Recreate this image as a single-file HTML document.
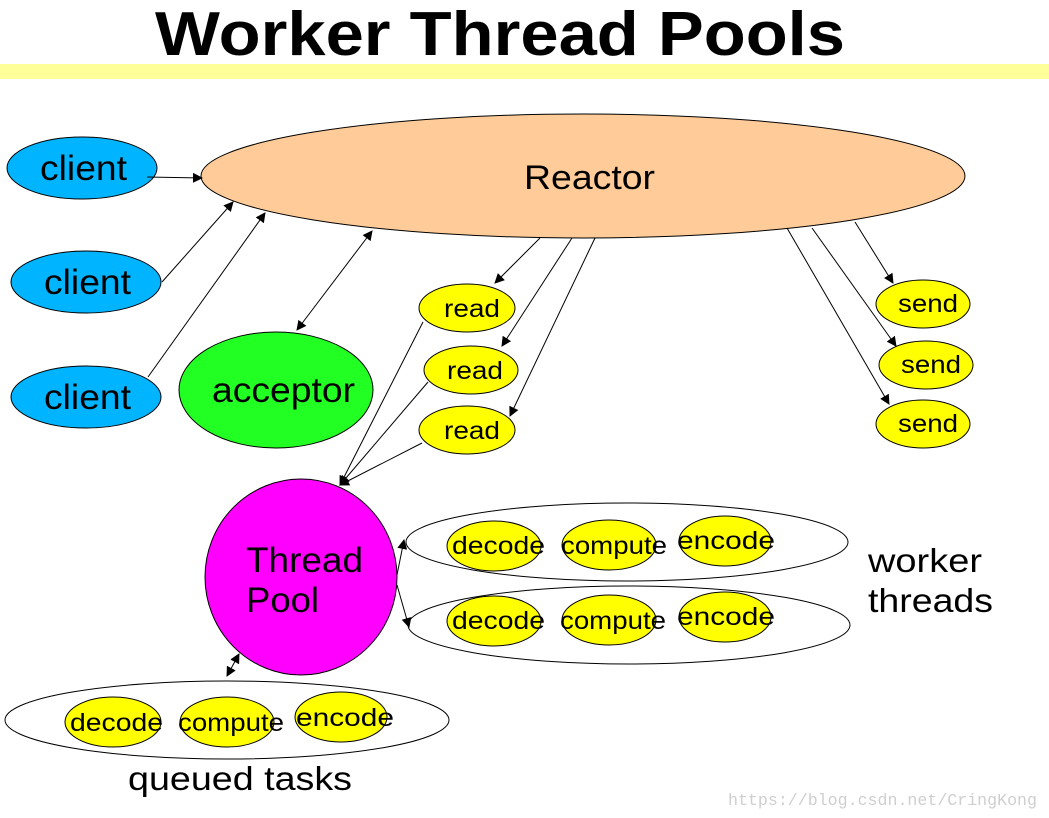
<!DOCTYPE html>
<html><head><meta charset="utf-8"><style>
html,body{margin:0;padding:0;background:#fff;}
svg{display:block;}
text{font-family:"Liberation Sans","DejaVu Sans",sans-serif;fill:#000;}
</style></head><body>
<svg width="1049" height="818" viewBox="0 0 1049 818" xmlns="http://www.w3.org/2000/svg">
<defs>
<marker id="a" markerWidth="10" markerHeight="10" refX="9" refY="5" orient="auto" markerUnits="userSpaceOnUse">
<path d="M0,0 L10,5 L0,10 z" fill="#000"/></marker>
<marker id="s" markerWidth="10" markerHeight="10" refX="1" refY="5" orient="auto" markerUnits="userSpaceOnUse">
<path d="M10,0 L0,5 L10,10 z" fill="#000"/></marker>
</defs>
<text x="500" y="55" font-size="62" font-weight="bold" text-anchor="middle" textLength="690" lengthAdjust="spacingAndGlyphs">Worker Thread Pools</text>
<rect x="0" y="64" width="1049" height="15" fill="#ffff99"/>

<g stroke="#000" stroke-width="1">
<ellipse cx="583" cy="176" rx="382" ry="62" fill="#ffcc99"/>
<ellipse cx="82" cy="168" rx="75" ry="31" fill="#00b4ff"/>
<ellipse cx="86" cy="282" rx="75" ry="31" fill="#00b4ff"/>
<ellipse cx="86" cy="397" rx="75" ry="31" fill="#00b4ff"/>
<ellipse cx="276" cy="390" rx="97" ry="58" fill="#22ff22"/>
<ellipse cx="467" cy="308" rx="48" ry="24" fill="#ffff00"/>
<ellipse cx="471" cy="370" rx="47" ry="24" fill="#ffff00"/>
<ellipse cx="467" cy="430" rx="48" ry="24" fill="#ffff00"/>
<ellipse cx="923" cy="304" rx="47" ry="24" fill="#ffff00"/>
<ellipse cx="926" cy="365" rx="47" ry="24" fill="#ffff00"/>
<ellipse cx="923" cy="424" rx="47" ry="24" fill="#ffff00"/>
<ellipse cx="301" cy="577" rx="96" ry="98" fill="#ff00ff"/>
<ellipse cx="627" cy="542" rx="221" ry="39" fill="#fff"/>
<ellipse cx="629" cy="625" rx="221" ry="39" fill="#fff"/>
<ellipse cx="227" cy="720" rx="222" ry="39" fill="#fff"/>
<g fill="#ffff00">
<ellipse cx="494" cy="546" rx="47" ry="25"/><ellipse cx="609" cy="545" rx="47" ry="25"/><ellipse cx="725" cy="541" rx="46" ry="25"/>
<ellipse cx="494" cy="621" rx="47" ry="25"/><ellipse cx="609" cy="620" rx="47" ry="25"/><ellipse cx="725" cy="617" rx="46" ry="25"/>
<ellipse cx="113" cy="722" rx="48" ry="25"/><ellipse cx="227" cy="722" rx="47" ry="25"/><ellipse cx="341" cy="717" rx="46" ry="25"/>
</g>
</g>

<g stroke="#000" stroke-width="1" fill="none">
<line x1="147" y1="177" x2="202" y2="178" marker-end="url(#a)"/>
<line x1="162" y1="282" x2="233" y2="202" marker-end="url(#a)"/>
<line x1="148" y1="377" x2="265" y2="213" marker-end="url(#a)"/>
<line x1="297" y1="330" x2="372" y2="231" marker-start="url(#s)" marker-end="url(#a)"/>
<line x1="540" y1="238" x2="495" y2="283" marker-end="url(#a)"/>
<line x1="572" y1="238" x2="502" y2="346" marker-end="url(#a)"/>
<line x1="595" y1="238" x2="510" y2="416" marker-end="url(#a)"/>
<line x1="855" y1="222" x2="893" y2="283" marker-end="url(#a)"/>
<line x1="812" y1="228" x2="896" y2="346" marker-end="url(#a)"/>
<line x1="787" y1="228" x2="889" y2="404" marker-end="url(#a)"/>
<line x1="423" y1="322" x2="340" y2="485" marker-end="url(#a)"/>
<line x1="428" y1="382" x2="340" y2="485" marker-end="url(#a)"/>
<line x1="422" y1="443" x2="340" y2="485" marker-end="url(#a)"/>
<line x1="397" y1="575" x2="404" y2="540" marker-end="url(#a)"/>
<line x1="397" y1="585" x2="409" y2="627" marker-end="url(#a)"/>
<line x1="227" y1="676" x2="239" y2="654" marker-start="url(#s)" marker-end="url(#a)"/>
</g>

<g lengthAdjust="spacingAndGlyphs">
<text x="524" y="189" font-size="34" textLength="131" lengthAdjust="spacingAndGlyphs">Reactor</text>
<text x="40" y="180" font-size="35" textLength="87" lengthAdjust="spacingAndGlyphs">client</text>
<text x="44" y="294" font-size="35" textLength="87" lengthAdjust="spacingAndGlyphs">client</text>
<text x="44" y="409" font-size="35" textLength="87" lengthAdjust="spacingAndGlyphs">client</text>
<text x="212" y="402" font-size="35" textLength="143" lengthAdjust="spacingAndGlyphs">acceptor</text>
<text x="444" y="317" font-size="25" textLength="56" lengthAdjust="spacingAndGlyphs">read</text>
<text x="447" y="379" font-size="25" textLength="56" lengthAdjust="spacingAndGlyphs">read</text>
<text x="444" y="439" font-size="25" textLength="56" lengthAdjust="spacingAndGlyphs">read</text>
<text x="898" y="312" font-size="25" textLength="60" lengthAdjust="spacingAndGlyphs">send</text>
<text x="901" y="373" font-size="25" textLength="60" lengthAdjust="spacingAndGlyphs">send</text>
<text x="898" y="432" font-size="25" textLength="60" lengthAdjust="spacingAndGlyphs">send</text>
<text x="246" y="572" font-size="35" textLength="117" lengthAdjust="spacingAndGlyphs">Thread</text>
<text x="246" y="612" font-size="35" textLength="73" lengthAdjust="spacingAndGlyphs">Pool</text>
<g font-size="25">
<text x="452" y="554" textLength="93" lengthAdjust="spacingAndGlyphs">decode</text><text x="561" y="554" textLength="106" lengthAdjust="spacingAndGlyphs">compute</text><text x="677" y="549" textLength="98" lengthAdjust="spacingAndGlyphs">encode</text>
<text x="452" y="629" textLength="93" lengthAdjust="spacingAndGlyphs">decode</text><text x="560" y="629" textLength="106" lengthAdjust="spacingAndGlyphs">compute</text><text x="677" y="625" textLength="98" lengthAdjust="spacingAndGlyphs">encode</text>
<text x="70" y="731" textLength="93" lengthAdjust="spacingAndGlyphs">decode</text><text x="178" y="731" textLength="106" lengthAdjust="spacingAndGlyphs">compute</text><text x="296" y="726" textLength="98" lengthAdjust="spacingAndGlyphs">encode</text>
</g>
<text x="868" y="572" font-size="33" textLength="114" lengthAdjust="spacingAndGlyphs">worker</text>
<text x="868" y="612" font-size="33" textLength="125" lengthAdjust="spacingAndGlyphs">threads</text>
<text x="128" y="790" font-size="33" textLength="224" lengthAdjust="spacingAndGlyphs">queued tasks</text>
</g>
<text x="728" y="805" font-size="17" textLength="309" lengthAdjust="spacingAndGlyphs" style="fill:#cfcfcf;font-family:'Liberation Mono',monospace">https://blog.csdn.net/CringKong</text>
</svg>
</body></html>
